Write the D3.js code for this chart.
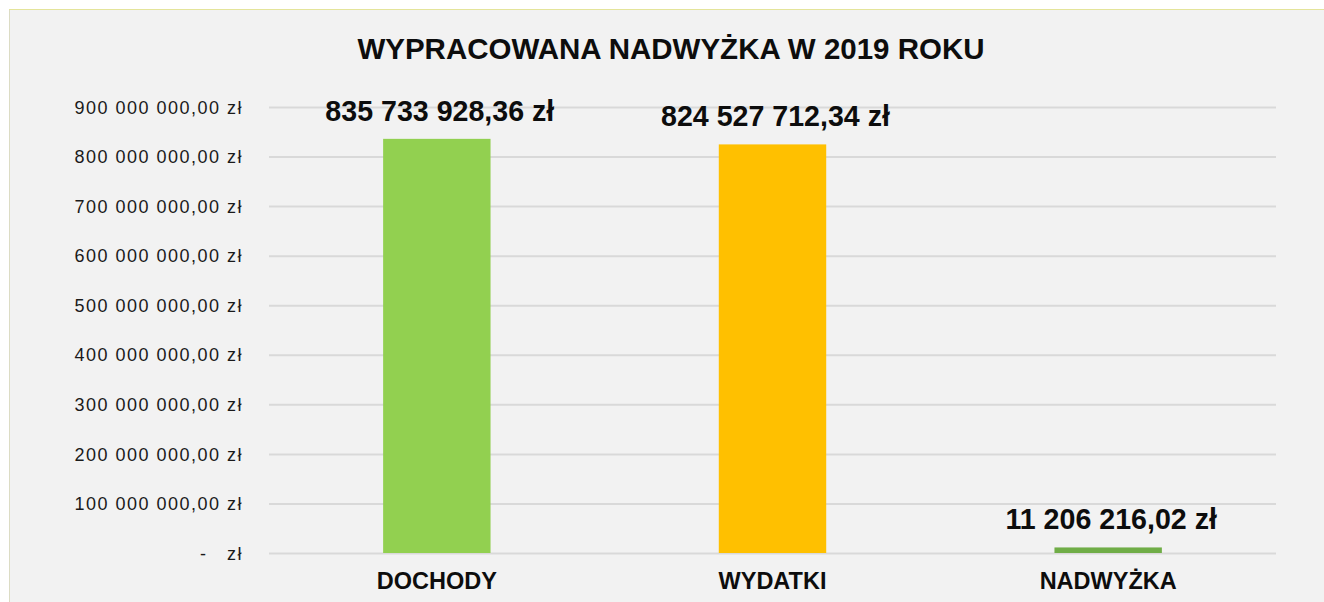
<!DOCTYPE html>
<html>
<head>
<meta charset="utf-8">
<script src="https://cdn.jsdelivr.net/npm/d3@7"></script>
<style>
  body { margin: 0; background: #fff; }
  text { white-space: pre; }
</style>
</head>
<body>
<div id="chart"></div>
<script>
// data
var categories = ["DOCHODY", "WYDATKI", "NADWYŻKA"];
var values = [835733928.36, 824527712.34, 11206216.02];
var valueLabels = ["835 733 928,36 zł", "824 527 712,34 zł", "11 206 216,02 zł"];
var barColors = ["#92d050", "#ffc000", "#70ad47"];
var tickValues = [0, 100e6, 200e6, 300e6, 400e6, 500e6, 600e6, 700e6, 800e6, 900e6];
var tickLabels = ["-   zł", "100 000 000,00 zł", "200 000 000,00 zł", "300 000 000,00 zł",
  "400 000 000,00 zł", "500 000 000,00 zł", "600 000 000,00 zł", "700 000 000,00 zł",
  "800 000 000,00 zł", "900 000 000,00 zł"];
var title = "WYPRACOWANA NADWYŻKA W 2019 ROKU";

var W = 1324, H = 602;
var plot = {left: 269, right: 1276, top: 107, bottom: 553};

var svg = d3.select("#chart")
  .append("svg")
    .attr("width", W)
    .attr("height", H);

// chart area background + border
svg.append("rect")
  .attr("x", 9.5).attr("y", 9.5)
  .attr("width", W).attr("height", H)
  .attr("fill", "#f2f2f2")
  .attr("stroke", "#dcdcc4")
  .attr("stroke-width", 1);
svg.append("line")
  .attr("x1", 9).attr("x2", W).attr("y1", 9.5).attr("y2", 9.5)
  .attr("stroke", "#e4e49a");

// scales
var x = d3.scaleBand()
  .domain(categories)
  .range([plot.left, plot.right])
  .paddingInner(0.68)
  .paddingOuter(0.34);

var y = d3.scaleLinear()
  .domain([0, 900e6])
  .range([plot.bottom, plot.top]);

// gridlines + tick labels
var yAxis = svg.append("g")
  .attr("transform", "translate(" + plot.left + ",0)")
  .call(d3.axisLeft(y)
    .tickValues(tickValues)
    .tickSize(-(plot.right - plot.left))
    .tickPadding(26)
    .tickFormat(function(d, i) { return tickLabels[i]; }));
yAxis.select(".domain").remove();
yAxis.selectAll(".tick line")
  .attr("stroke", "#d9d9d9")
  .attr("stroke-width", 2);
yAxis.selectAll(".tick text")
  .attr("fill", "#1a1a1a")
  .attr("font-family", "'Liberation Sans', Arial, sans-serif")
  .attr("font-size", 18)
  .attr("letter-spacing", 1.5)
  .attr("dy", "0.34em");

// bars
svg.selectAll(".bar")
  .data(values)
  .enter().append("rect")
    .attr("class", "bar")
    .attr("x", function(d, i) { return x(categories[i]); })
    .attr("width", x.bandwidth())
    .attr("y", function(d) { return y(d); })
    .attr("height", function(d) { return y(0) - y(d); })
    .attr("fill", function(d, i) { return barColors[i]; });

// value labels
svg.selectAll(".vlabel")
  .data(values)
  .enter().append("text")
    .attr("class", "vlabel")
    .attr("x", function(d, i) { return x(categories[i]) + x.bandwidth() / 2 + 3; })
    .attr("y", function(d) { return y(d) - 18; })
    .attr("text-anchor", "middle")
    .attr("font-family", "'Liberation Sans', Arial, sans-serif")
    .attr("font-weight", "bold")
    .attr("font-size", 28.6)
    .attr("fill", "#0d0d0d")
    .text(function(d, i) { return valueLabels[i]; });

// category labels
svg.selectAll(".clabel")
  .data(categories)
  .enter().append("text")
    .attr("class", "clabel")
    .attr("x", function(d) { return x(d) + x.bandwidth() / 2; })
    .attr("y", 589)
    .attr("text-anchor", "middle")
    .attr("font-family", "'Liberation Sans', Arial, sans-serif")
    .attr("font-weight", "bold")
    .attr("font-size", 23.5)
    .attr("fill", "#0d0d0d")
    .text(function(d) { return d; });

// title
svg.append("text")
  .attr("x", 671)
  .attr("y", 59)
  .attr("text-anchor", "middle")
  .attr("font-family", "'Liberation Sans', Arial, sans-serif")
  .attr("font-weight", "bold")
  .attr("font-size", 29.5)
  .attr("fill", "#0d0d0d")
  .text(title);
</script>
</body>
</html>
